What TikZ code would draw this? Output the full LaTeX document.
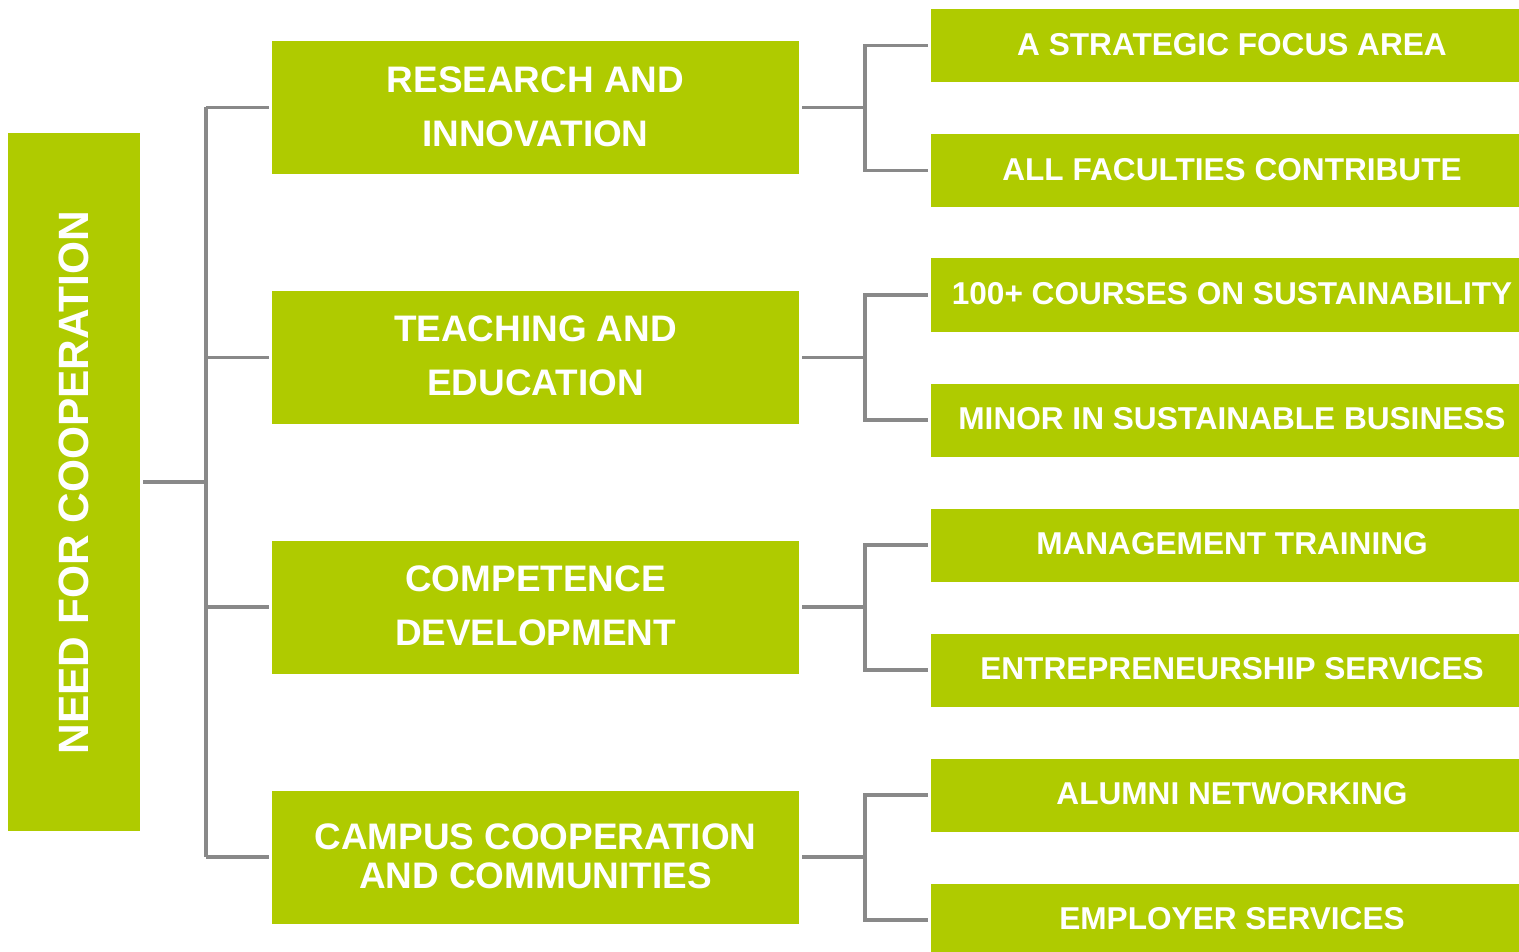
\documentclass[tikz,border=0pt]{standalone}
\usepackage{fontspec}
\setmainfont{Liberation Sans}
\definecolor{boxgreen}{RGB}{175,203,0}
\definecolor{linegray}{RGB}{137,137,137}
\begin{document}
\begin{tikzpicture}[x=1pt,y=-1pt,
  greenbox/.style={fill=boxgreen,draw=none,text=white,inner sep=0pt,align=center,font=\bfseries},
  rootbox/.style={greenbox,minimum width=132pt,minimum height=698pt},
  midbox/.style={greenbox,minimum width=527pt,minimum height=133pt,font=\fontsize{36.9}{54}\selectfont\bfseries},
  leafbox/.style={greenbox,minimum width=602pt,minimum height=73pt,font=\fontsize{31.6}{36}\selectfont\bfseries},
  conn/.style={draw=linegray,line width=3.2pt},
  lift/.style={text=white,inner sep=0pt,align=center}]
\useasboundingbox (0,0) rectangle (1519,952);
\fill[white] (0,0) rectangle (1519,952);

% root
\node[rootbox] (root) at (74,482) {};
\node[text=white,font=\fontsize{42.4}{48}\selectfont\bfseries,rotate=90] (roottext) at (74,482.5) {NEED FOR COOPERATION};

% middle
\node[midbox] (m1) at (535.5,107.5) {};
\node[midbox] (m2) at (535.5,357.5) {};
\node[midbox] (m3) at (535.5,607) {};
\node[midbox] (m4) at (535.5,857) {};
\node[lift,font=\fontsize{36.9}{54}\selectfont\bfseries] (m1t) at (535.5,106.5) {RESEARCH AND\\INNOVATION};
\node[lift,font=\fontsize{36.9}{54}\selectfont\bfseries] (m2t) at (535.5,356) {TEACHING AND\\EDUCATION};
\node[lift,font=\fontsize{36.9}{54}\selectfont\bfseries] (m3t) at (535.5,606) {COMPETENCE\\DEVELOPMENT};
\node[lift,font=\fontsize{36.9}{39}\selectfont\bfseries] (m4t) at (535.5,856) {CAMPUS COOPERATION\\AND COMMUNITIES};

% leaves
\node[leafbox] (r1) at (1232,45.5) {};
\node[leafbox] (r2) at (1232,170.5) {};
\node[leafbox] (r3) at (1232,295) {};
\node[leafbox] (r4) at (1232,420) {};
\node[leafbox] (r5) at (1232,545) {};
\node[leafbox] (r6) at (1232,670) {};
\node[leafbox] (r7) at (1232,795) {};
\node[leafbox] (r8) at (1232,920) {};
\foreach \r/\t in {r1/A STRATEGIC FOCUS AREA, r2/ALL FACULTIES CONTRIBUTE, r3/100+ COURSES ON SUSTAINABILITY, r4/MINOR IN SUSTAINABLE BUSINESS, r5/MANAGEMENT TRAINING, r6/ENTREPRENEURSHIP SERVICES, r7/ALUMNI NETWORKING, r8/EMPLOYER SERVICES}{
  \node[lift,font=\fontsize{31.6}{36}\selectfont\bfseries] (\r t) at ([yshift=1pt]\r.center) {\t};
}

% left connectors
\coordinate (t0) at (206,482);
\draw[conn,shorten <=3pt] (root.east|-t0) -- (t0);
\draw[conn] (206,107.5) -- (206,857);
\foreach \m in {m1,m2,m3,m4}{
  \draw[conn,shorten >=3pt] (t0|-\m.west) -- (\m.west);
}

% right brackets
\foreach \m/\a/\b in {m1/r1/r2, m2/r3/r4, m3/r5/r6, m4/r7/r8}{
  \coordinate (j\m) at (865,0|-\m.east);
  \draw[conn,shorten <=3pt] (\m.east) -- (j\m);
  \draw[conn,shorten <=3pt,shorten >=3pt] (\a.west) -| (j\m) |- (\b.west);
}
\end{tikzpicture}
\end{document}
